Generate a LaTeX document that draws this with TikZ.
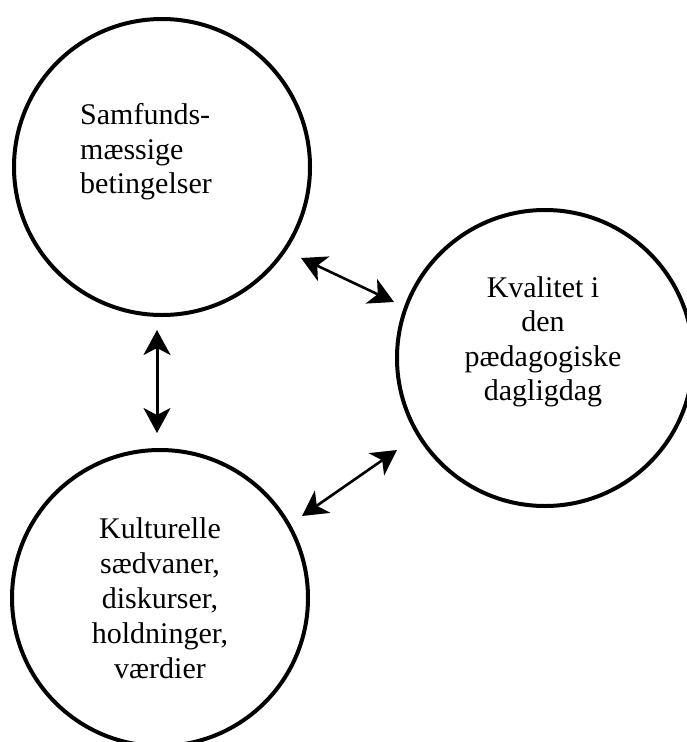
\documentclass[tikz,border=0pt]{standalone}
\usepackage{fontspec}
\setmainfont{Liberation Serif}
\usetikzlibrary{arrows.meta}
\begin{document}
\begin{tikzpicture}[x=1pt,y=-1pt,
  ring/.style={circle,draw=black,line width=4pt,minimum size=296pt,inner sep=0pt},
  lbl/.style={inner sep=0pt,font=\fontsize{30}{34.5}\selectfont},
  arr/.style={line width=2.6pt,{Stealth[length=25pt,width=27pt,inset=7pt]}-{Stealth[length=25pt,width=27pt,inset=7pt]}}]
\useasboundingbox (0,0) rectangle (686,742);
\node[ring] (c1) at (162,167) {};
\node[ring] (c2) at (545,358) {};
\node[ring] (c3) at (160,598) {};
\node[lbl,align=left] (t1) at (146,152) {Samfunds-\\mæssige\\betingelser};
\node[lbl,align=center] (t2) at (543,342) {Kvalitet i\\den\\pædagogiske\\dagligdag};
\node[lbl,align=center,font=\fontsize{30}{35}\selectfont] (t3) at (160,598) {Kulturelle\\sædvaner,\\diskurser,\\holdninger,\\værdier};
\coordinate (a1s) at (301,258);
\coordinate (a1e) at (394,302);
\coordinate (a2s) at (397,450);
\coordinate (a2e) at (302,516);
\coordinate (a3s) at (157,330);
\coordinate (a3e) at (157,433);
\draw[arr] (a1s) -- (a1e);
\draw[arr] (a2s) -- (a2e);
\draw[arr,line width=3pt] (a3s) -- (a3e);
\end{tikzpicture}
\end{document}
